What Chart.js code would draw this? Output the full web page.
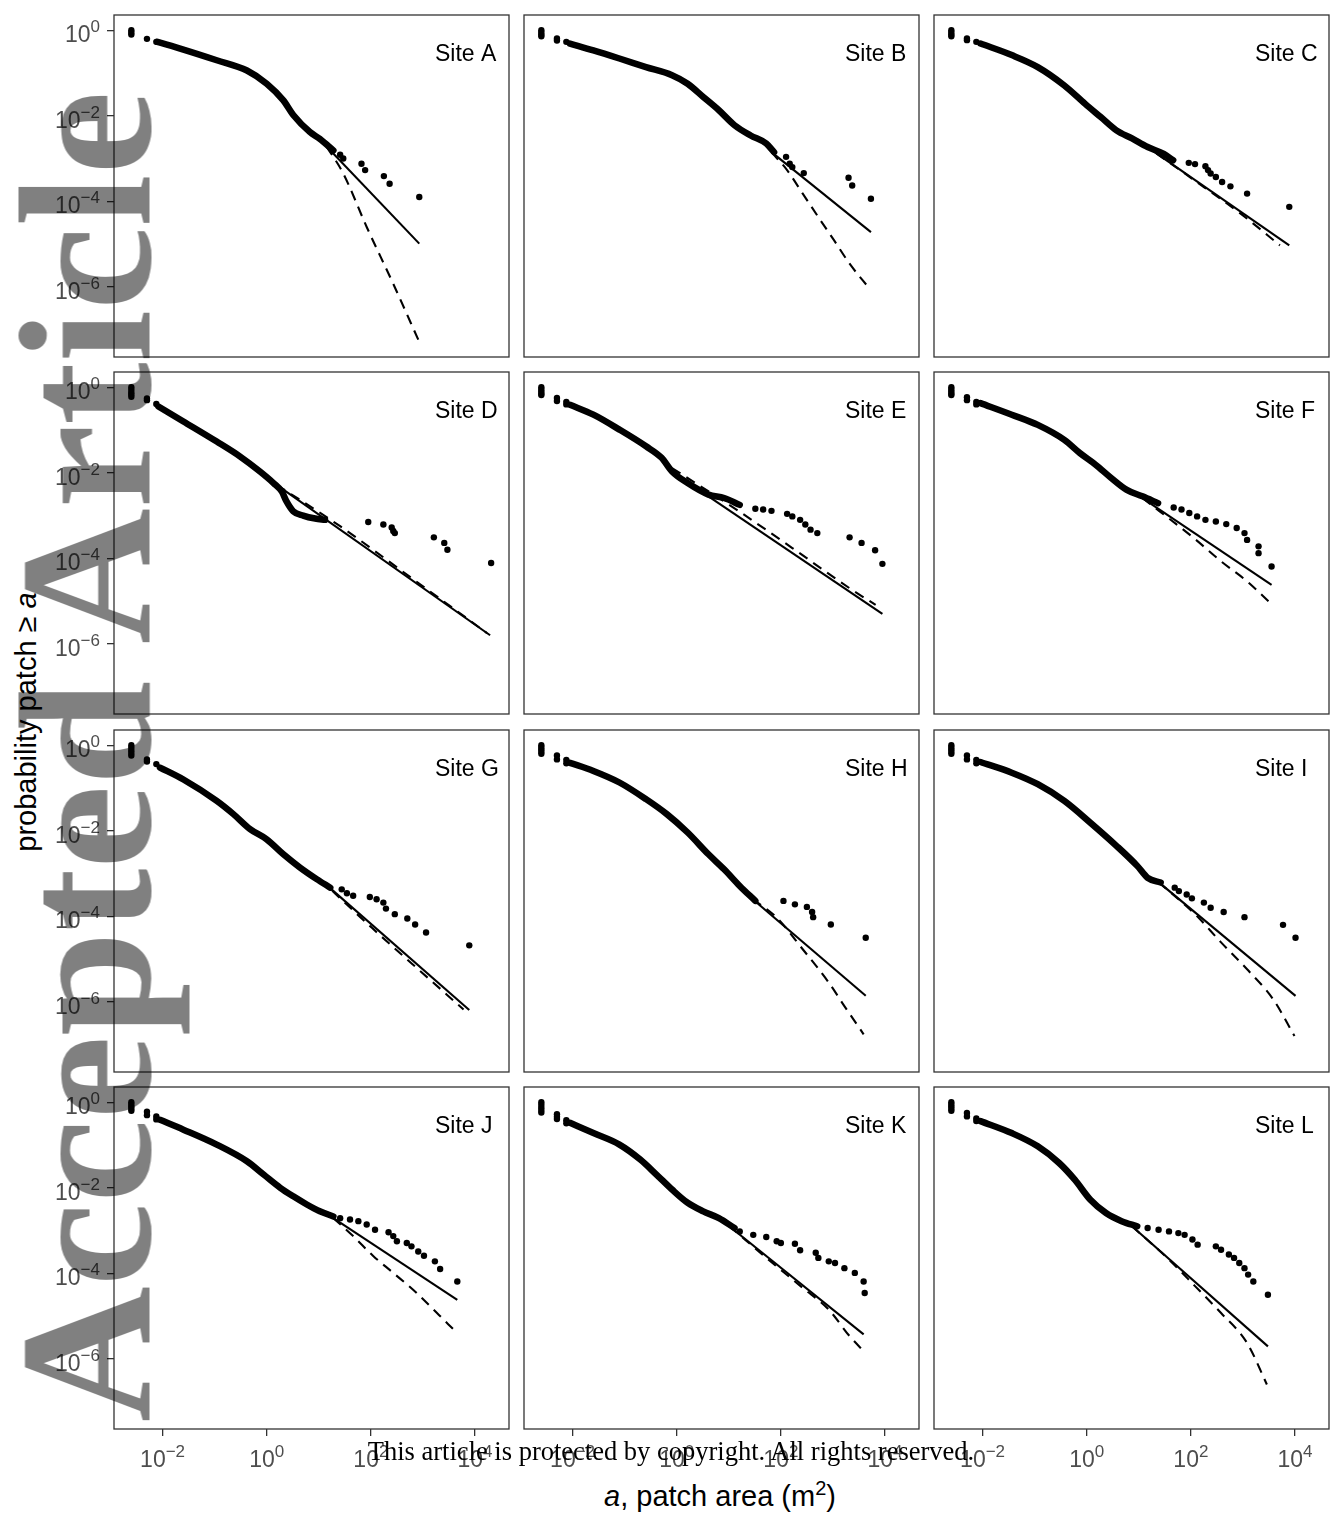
<!DOCTYPE html>
<html>
<head>
<meta charset="utf-8">
<script src="https://cdn.jsdelivr.net/npm/chart.js@4.4.1/dist/chart.umd.min.js"></script>
<style>
  html, body { margin: 0; padding: 0; background: #fff; }
  #page { position: relative; width: 1333px; height: 1524px; overflow: hidden; background: #fff; }
  canvas { position: absolute; }
  .title { position: absolute; white-space: nowrap; font-family: "Liberation Sans", Arial, sans-serif; font-size: 29px; color: #000; }
  #ytitle { left: 26px; top: 722px; transform: translate(-50%, -50%) rotate(-90deg); }
  #xtitle { left: 720px; top: 1480px; transform: translateX(-50%); }
  #xtitle sup { font-size: 20px; vertical-align: 11px; line-height: 0; }
  #copy { position: absolute; left: 671px; top: 1438px; transform: translateX(-50%); white-space: nowrap;
          font-family: "Liberation Serif", "Times New Roman", serif; font-size: 26.5px; line-height: 1; color: #000; }
  #stamp { position: absolute; left: 0; top: 0; white-space: nowrap; transform-origin: 0 0;
           transform: translate(-7.5px, 1422px) rotate(-90deg);
           font-family: "Liberation Serif", "Times New Roman", serif; font-weight: bold; font-size: 188px; line-height: 188px;
           color: #808080; mix-blend-mode: multiply; }
</style>
</head>
<body>
<div id="page">
  <div id="ytitle" class="title">probability patch ≥ <i>a</i></div>
  <div id="xtitle" class="title"><i>a</i>, patch area (m<sup>2</sup>)</div>
</div>
<script>
// all values are log10(area, m²) and log10(probability patch ≥ a)
const sites = ['Site A', 'Site B', 'Site C', 'Site D', 'Site E', 'Site F',
               'Site G', 'Site H', 'Site I', 'Site J', 'Site K', 'Site L'];

// stacked points at the three smallest patch sizes
const smallestPatches = [
  [[-2.6,0],[-2.6,-0.05],[-2.6,-0.1],[-2.3,-0.2],[-2.12,-0.27]],
  [[-2.6,0],[-2.6,-0.05],[-2.6,-0.1],[-2.6,-0.14],[-2.3,-0.19],[-2.3,-0.24],[-2.12,-0.27]],
  [[-2.6,0],[-2.6,-0.05],[-2.6,-0.1],[-2.6,-0.14],[-2.3,-0.19],[-2.3,-0.23],[-2.12,-0.27]],
  [[-2.6,0],[-2.6,-0.06],[-2.6,-0.12],[-2.6,-0.17],[-2.6,-0.22],[-2.3,-0.26],[-2.3,-0.3],[-2.12,-0.39]],
  [[-2.6,0],[-2.6,-0.05],[-2.6,-0.1],[-2.6,-0.15],[-2.6,-0.18],[-2.3,-0.25],[-2.3,-0.32],[-2.12,-0.34],[-2.12,-0.4]],
  [[-2.6,0],[-2.6,-0.05],[-2.6,-0.1],[-2.6,-0.15],[-2.6,-0.18],[-2.3,-0.23],[-2.3,-0.3],[-2.12,-0.34],[-2.12,-0.4]],
  [[-2.6,0],[-2.6,-0.06],[-2.6,-0.12],[-2.6,-0.18],[-2.6,-0.24],[-2.3,-0.33],[-2.3,-0.38],[-2.12,-0.44]],
  [[-2.6,0],[-2.6,-0.05],[-2.6,-0.1],[-2.6,-0.15],[-2.6,-0.2],[-2.3,-0.24],[-2.3,-0.33],[-2.12,-0.34],[-2.12,-0.42]],
  [[-2.6,0],[-2.6,-0.05],[-2.6,-0.1],[-2.6,-0.15],[-2.6,-0.2],[-2.3,-0.24],[-2.3,-0.33],[-2.12,-0.34],[-2.12,-0.42]],
  [[-2.6,0],[-2.6,-0.05],[-2.6,-0.1],[-2.6,-0.15],[-2.6,-0.2],[-2.3,-0.22],[-2.3,-0.3],[-2.12,-0.33],[-2.12,-0.4]],
  [[-2.6,0],[-2.6,-0.06],[-2.6,-0.12],[-2.6,-0.18],[-2.6,-0.24],[-2.3,-0.28],[-2.3,-0.34],[-2.3,-0.39],[-2.12,-0.42],[-2.12,-0.49]],
  [[-2.6,0],[-2.6,-0.05],[-2.6,-0.1],[-2.6,-0.15],[-2.6,-0.2],[-2.3,-0.25],[-2.3,-0.33],[-2.12,-0.38],[-2.12,-0.44]]
];

// the dense run of points (drawn as a thick trace)
const bodyTrace = [
  [[-2.1,-0.27],[-1.6,-0.45],[-0.96,-0.7],[-0.38,-0.94],[0,-1.25],[0.32,-1.64],[0.51,-1.98],[0.83,-2.38],[1.02,-2.54],[1.28,-2.81]],
  [[-2.05,-0.31],[-1.6,-0.47],[-1.1,-0.66],[-0.59,-0.86],[-0.09,-1.05],[0.21,-1.25],[0.51,-1.56],[0.81,-1.87],[1.11,-2.22],[1.42,-2.46],[1.72,-2.65],[1.87,-2.85]],
  [[-2.04,-0.31],[-1.44,-0.58],[-0.94,-0.86],[-0.43,-1.29],[-0.03,-1.72],[0.27,-2.03],[0.57,-2.34],[0.87,-2.53],[1.17,-2.73],[1.48,-2.89],[1.66,-3.04]],
  [[-2.08,-0.45],[-1.6,-0.8],[-0.96,-1.27],[-0.51,-1.62],[-0.13,-1.97],[0.13,-2.24],[0.29,-2.44],[0.38,-2.67],[0.51,-2.9],[0.7,-3.0],[0.93,-3.07],[1.12,-3.1]],
  [[-2.05,-0.41],[-1.6,-0.64],[-1.1,-0.99],[-0.59,-1.38],[-0.29,-1.65],[-0.09,-1.97],[0.21,-2.24],[0.61,-2.51],[0.91,-2.59],[1.21,-2.75]],
  [[-2.04,-0.37],[-1.44,-0.64],[-0.94,-0.88],[-0.43,-1.23],[-0.13,-1.54],[0.17,-1.81],[0.47,-2.12],[0.77,-2.4],[1.07,-2.55],[1.37,-2.71]],
  [[-2.05,-0.52],[-1.6,-0.8],[-0.96,-1.3],[-0.64,-1.61],[-0.32,-1.96],[0,-2.2],[0.32,-2.55],[0.64,-2.86],[0.96,-3.13],[1.22,-3.33]],
  [[-2.05,-0.41],[-1.6,-0.6],[-1.1,-0.87],[-0.59,-1.26],[-0.19,-1.61],[0.21,-2.04],[0.61,-2.55],[0.91,-2.9],[1.21,-3.29],[1.51,-3.64]],
  [[-2.04,-0.39],[-1.44,-0.64],[-0.94,-0.91],[-0.43,-1.3],[0.07,-1.81],[0.57,-2.35],[0.97,-2.82],[1.17,-3.1],[1.42,-3.21]],
  [[-2.05,-0.41],[-1.6,-0.64],[-0.96,-0.99],[-0.38,-1.38],[-0.06,-1.69],[0.26,-2.0],[0.51,-2.2],[0.77,-2.39],[1.02,-2.55],[1.28,-2.67]],
  [[-2.05,-0.48],[-1.6,-0.72],[-1.1,-0.99],[-0.7,-1.34],[-0.39,-1.69],[-0.09,-2.04],[0.21,-2.35],[0.51,-2.55],[0.81,-2.71],[1.11,-2.94]],
  [[-2.04,-0.44],[-1.44,-0.72],[-0.94,-1.03],[-0.53,-1.42],[-0.23,-1.81],[0.07,-2.28],[0.37,-2.59],[0.67,-2.78],[0.97,-2.9]]
];

// separate points in the upper tail
const largePatches = [
  [[1.41,-2.91],[1.47,-3.0],[1.82,-3.12],[1.89,-3.27],[2.25,-3.41],[2.36,-3.59],[2.93,-3.9]],
  [[2.1,-2.96],[2.17,-3.12],[2.22,-3.2],[2.44,-3.34],[3.3,-3.45],[3.37,-3.63],[3.73,-3.94]],
  [[1.96,-3.1],[2.08,-3.13],[2.28,-3.18],[2.33,-3.27],[2.38,-3.35],[2.48,-3.43],[2.6,-3.55],[2.76,-3.65],[3.08,-3.82],[3.89,-4.13]],
  [[1.95,-3.15],[2.24,-3.21],[2.4,-3.28],[2.43,-3.36],[2.46,-3.41],[3.21,-3.51],[3.41,-3.64],[3.47,-3.8],[4.31,-4.11]],
  [[1.51,-2.84],[1.66,-2.86],[1.82,-2.89],[2.12,-2.96],[2.22,-3.02],[2.37,-3.1],[2.47,-3.21],[2.57,-3.33],[2.7,-3.41],[3.32,-3.51],[3.55,-3.64],[3.81,-3.81],[3.95,-4.13]],
  [[1.67,-2.81],[1.82,-2.86],[1.97,-2.94],[2.12,-3.02],[2.28,-3.1],[2.48,-3.14],[2.68,-3.2],[2.88,-3.29],[3.03,-3.41],[3.08,-3.57],[3.3,-3.72],[3.3,-3.88],[3.55,-4.19]],
  [[1.44,-3.37],[1.54,-3.46],[1.66,-3.52],[1.98,-3.55],[2.11,-3.6],[2.24,-3.68],[2.29,-3.82],[2.46,-3.95],[2.7,-4.05],[2.85,-4.19],[3.06,-4.38],[3.89,-4.68]],
  [[2.05,-3.64],[2.27,-3.72],[2.5,-3.78],[2.6,-3.9],[2.62,-4.02],[2.96,-4.19],[3.63,-4.5]],
  [[1.69,-3.33],[1.77,-3.41],[1.92,-3.49],[2.02,-3.58],[2.25,-3.68],[2.38,-3.8],[2.63,-3.9],[3.03,-4.02],[3.77,-4.2],[4.01,-4.5]],
  [[1.41,-2.71],[1.6,-2.74],[1.76,-2.78],[1.92,-2.86],[2.08,-2.98],[2.34,-3.04],[2.43,-3.13],[2.5,-3.25],[2.69,-3.29],[2.78,-3.37],[2.91,-3.49],[3.02,-3.59],[3.23,-3.72],[3.33,-3.9],[3.66,-4.19]],
  [[1.21,-3.02],[1.47,-3.1],[1.72,-3.15],[1.92,-3.25],[2.0,-3.29],[2.27,-3.31],[2.37,-3.46],[2.67,-3.52],[2.72,-3.64],[2.92,-3.72],[3.04,-3.76],[3.22,-3.88],[3.42,-3.99],[3.59,-4.19],[3.61,-4.46]],
  [[1.17,-2.94],[1.38,-2.98],[1.58,-3.02],[1.76,-3.06],[1.88,-3.1],[2.03,-3.21],[2.13,-3.33],[2.48,-3.37],[2.58,-3.45],[2.73,-3.56],[2.83,-3.64],[2.93,-3.76],[3.03,-3.88],[3.1,-4.03],[3.2,-4.19],[3.48,-4.5]]
];

// power-law fit (solid)
const powerLawFit = [
  [[1.15,-2.72],[2.93,-4.99]],
  [[1.82,-2.85],[3.73,-4.72]],
  [[1.07,-2.65],[3.89,-5.03]],
  [[0.19,-2.28],[4.29,-5.8]],
  [[0.61,-2.55],[3.95,-5.3]],
  [[1.07,-2.59],[3.55,-4.62]],
  [[1.02,-3.13],[3.89,-6.19]],
  [[1.46,-3.6],[3.63,-5.86]],
  [[1.38,-3.2],[4.01,-5.86]],
  [[1.28,-2.71],[3.66,-4.62]],
  [[1.01,-2.9],[3.59,-5.43]],
  [[0.87,-2.9],[3.48,-5.71]]
];

// truncated power-law fit (dashed)
const truncatedFit = [
  [[1.15,-2.72],[1.47,-3.35],[1.92,-4.6],[2.43,-5.93],[2.93,-7.29]],
  [[1.82,-2.85],[2.12,-3.27],[2.42,-3.82],[2.72,-4.37],[3.02,-4.91],[3.32,-5.46],[3.7,-6.04]],
  [[1.07,-2.65],[2.0,-3.45],[3.0,-4.33],[3.71,-5.03]],
  [[0.19,-2.28],[1.41,-3.25],[2.78,-4.46],[3.84,-5.4],[4.23,-5.75]],
  [[-0.09,-1.89],[1.11,-2.83],[2.22,-3.76],[3.32,-4.7],[3.82,-5.09]],
  [[1.07,-2.59],[2.08,-3.55],[2.58,-4.07],[3.08,-4.54],[3.53,-5.05]],
  [[1.02,-3.13],[2.02,-4.27],[2.8,-5.12],[3.78,-6.18]],
  [[1.46,-3.6],[1.92,-4.03],[2.42,-4.77],[2.92,-5.55],[3.22,-6.1],[3.59,-6.76]],
  [[1.38,-3.2],[2.08,-3.95],[2.58,-4.61],[3.08,-5.24],[3.58,-5.94],[3.99,-6.8]],
  [[1.28,-2.71],[1.66,-3.13],[2.05,-3.6],[2.43,-3.99],[2.88,-4.46],[3.27,-4.93],[3.66,-5.4]],
  [[1.01,-2.9],[1.92,-3.84],[2.42,-4.34],[2.92,-4.85],[3.32,-5.47],[3.59,-5.82]],
  [[0.87,-2.9],[1.58,-3.68],[2.08,-4.3],[2.58,-4.93],[3.08,-5.63],[3.46,-6.6]]
];

const xTicks = [-2, 0, 2, 4];
const yTicks = [-6, -4, -2, 0];
const xRange = [-2.933, 4.653];
const yRange = [-7.642, 0.358];

const colLeft = [114, 524, 934];
const rowTop = [15, 372, 730, 1087];
const panelW = 395, panelH = 342;
const padL = 80, padR = 25, padT = 20, padB = 50;

const baseFont = '23px "Liberation Sans", Arial, sans-serif';
const supFont = '17px "Liberation Sans", Arial, sans-serif';

const toXY = (pairs) => pairs.map(([x, y]) => ({ x, y }));

// "10" with a raised exponent, like the R plotmath labels
function drawPower(ctx, exp, x, y, align) {
  const sup = String(exp).replace('-', '\u2212');
  ctx.font = baseFont;
  const wb = ctx.measureText('10').width;
  ctx.font = supFont;
  const ws = ctx.measureText(sup).width;
  const x0 = align === 'right' ? x - wb - ws : x - (wb + ws) / 2;
  ctx.fillStyle = '#4d4d4d';
  ctx.textAlign = 'left';
  ctx.textBaseline = 'alphabetic';
  ctx.font = baseFont;
  ctx.fillText('10', x0, y);
  ctx.font = supFont;
  ctx.fillText(sup, x0 + wb, y - 10);
}

const panelDecor = {
  id: 'panelDecor',
  afterDraw(chart, args, opts) {
    const { ctx, chartArea: a } = chart;
    ctx.save();
    ctx.strokeStyle = '#333333';
    ctx.lineWidth = 1.3;
    ctx.strokeRect(a.left, a.top, a.width, a.height);

    ctx.fillStyle = '#000';
    ctx.font = '23px "Liberation Sans", Arial, sans-serif';
    ctx.textAlign = 'left';
    ctx.textBaseline = 'alphabetic';
    ctx.fillText(opts.site, a.left + 321, a.top + 46);

    if (opts.showY) {
      chart.scales.y.ticks.forEach((t) =>
        drawPower(ctx, t.value, a.left - 14, chart.scales.y.getPixelForValue(t.value) + 12, 'right'));
    }
    if (opts.showX) {
      chart.scales.x.ticks.forEach((t) =>
        drawPower(ctx, t.value, chart.scales.x.getPixelForValue(t.value), a.bottom + 38, 'center'));
    }
    ctx.restore();
  }
};

function axis(range, ticks, show, horizontal) {
  return {
    type: 'linear',
    min: range[0],
    max: range[1],
    border: { display: false },
    grid: { display: show, drawOnChartArea: false, drawTicks: true, tickLength: 7, color: '#333333', lineWidth: 1.3 },
    ticks: { display: false },
    afterBuildTicks: (s) => { s.ticks = ticks.map((v) => ({ value: v })); },
    afterFit: (s) => { if (horizontal) s.height = padB; else s.width = padL; }
  };
}

const page = document.getElementById('page');

sites.forEach((site, i) => {
  const col = i % 3, row = Math.floor(i / 3);
  const cv = document.createElement('canvas');
  cv.width = padL + panelW + padR;
  cv.height = padT + panelH + padB;
  cv.style.left = (colLeft[col] - padL) + 'px';
  cv.style.top = (rowTop[row] - padT) + 'px';
  page.appendChild(cv);

  new Chart(cv, {
    type: 'scatter',
    data: {
      datasets: [
        { type: 'line', data: toXY(powerLawFit[i]), borderColor: '#000', borderWidth: 2.1, pointRadius: 0, order: 0 },
        { type: 'line', data: toXY(truncatedFit[i]), borderColor: '#000', borderWidth: 2.1, borderDash: [10, 7],
          pointRadius: 0, cubicInterpolationMode: 'monotone', order: 0 },
        { type: 'line', data: toXY(bodyTrace[i]), borderColor: '#000', borderWidth: 6.5, pointRadius: 0,
          cubicInterpolationMode: 'monotone', borderCapStyle: 'round', borderJoinStyle: 'round', order: 1 },
        { data: toXY(smallestPatches[i].concat(largePatches[i])), backgroundColor: '#000', borderWidth: 0,
          pointRadius: 3.2, order: 1 }
      ]
    },
    options: {
      responsive: false,
      animation: false,
      devicePixelRatio: 1,
      layout: { padding: { top: padT, right: padR, left: 0, bottom: 0 } },
      plugins: {
        legend: { display: false },
        tooltip: { enabled: false },
        panelDecor: { site, showX: row === 3, showY: col === 0 }
      },
      scales: {
        x: axis(xRange, xTicks, row === 3, true),
        y: axis(yRange, yTicks, col === 0, false)
      }
    },
    plugins: [panelDecor]
  });
});

const copy = document.createElement('div');
copy.id = 'copy';
copy.textContent = 'This article is protected by copyright. All rights reserved.';
page.appendChild(copy);

const stamp = document.createElement('div');
stamp.id = 'stamp';
stamp.textContent = 'Accepted Article';
page.appendChild(stamp);
</script>
</body>
</html>
